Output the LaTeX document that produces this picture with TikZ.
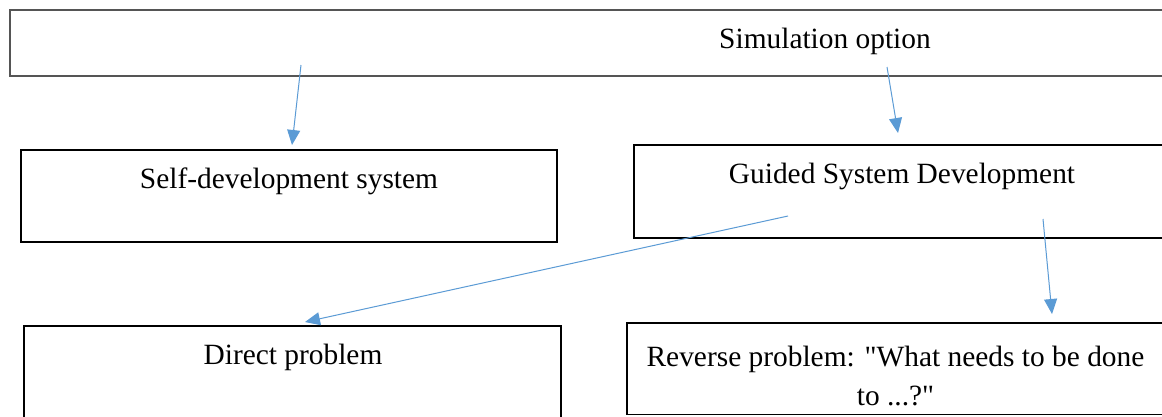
\documentclass[tikz,border=0pt]{standalone}
\usepackage{fontspec}
\setmainfont{Liberation Serif}[Ligatures=TeXOff]
\usetikzlibrary{arrows.meta}
\definecolor{arrowblue}{RGB}{91,155,213}
\definecolor{framegray}{RGB}{85,85,85}
\begin{document}
\begin{tikzpicture}[x=1pt,y=-1pt,
  box/.style={draw=black,line width=1.3pt},
  lbl/.style={anchor=base,inner sep=0pt,font=\fontsize{29.4}{39}\selectfont},
  conn/.style={draw=arrowblue,line width=1pt,-{Triangle[length=15pt,width=13pt]}}]
\useasboundingbox (0,0) rectangle (1162,416);
\path[fill=white] (0,0) rectangle (1162,416);
% boxes
\draw[box,draw=framegray] (10,10) rectangle (1640,76);
\draw[box] (21,150) rectangle (557,242);
\draw[box] (634,145) rectangle (1170,238);
\draw[box] (24,326) rectangle (561,440);
\draw[box] (627,323) rectangle (1170,414.5);
% labels
\node[lbl] (sim) at (825,48) {Simulation option};
\node[lbl] (self) at (289,188) {Self-development system};
\node[lbl] (guided) at (902,183) {Guided System Development};
\node[lbl] (direct) at (293,364) {Direct problem};
\node[lbl] (rev1) at (895.5,366) {Reverse problem: "What needs to be done};
\node[lbl] (rev2) at (895.5,405) {to ...?"};
% connectors
\coordinate (a1s) at (301,65);  \coordinate (a1e) at (292,145);
\coordinate (a2s) at (887,67);  \coordinate (a2e) at (898,133);
\coordinate (a3s) at (788,216); \coordinate (a3e) at (305,322);
\coordinate (a4s) at (1043,219); \coordinate (a4e) at (1052,314);
\draw[conn] (a1s) -- (a1e);
\draw[conn] (a2s) -- (a2e);
\draw[conn] (a3s) -- (a3e);
\draw[conn] (a4s) -- (a4e);
\end{tikzpicture}
\end{document}
